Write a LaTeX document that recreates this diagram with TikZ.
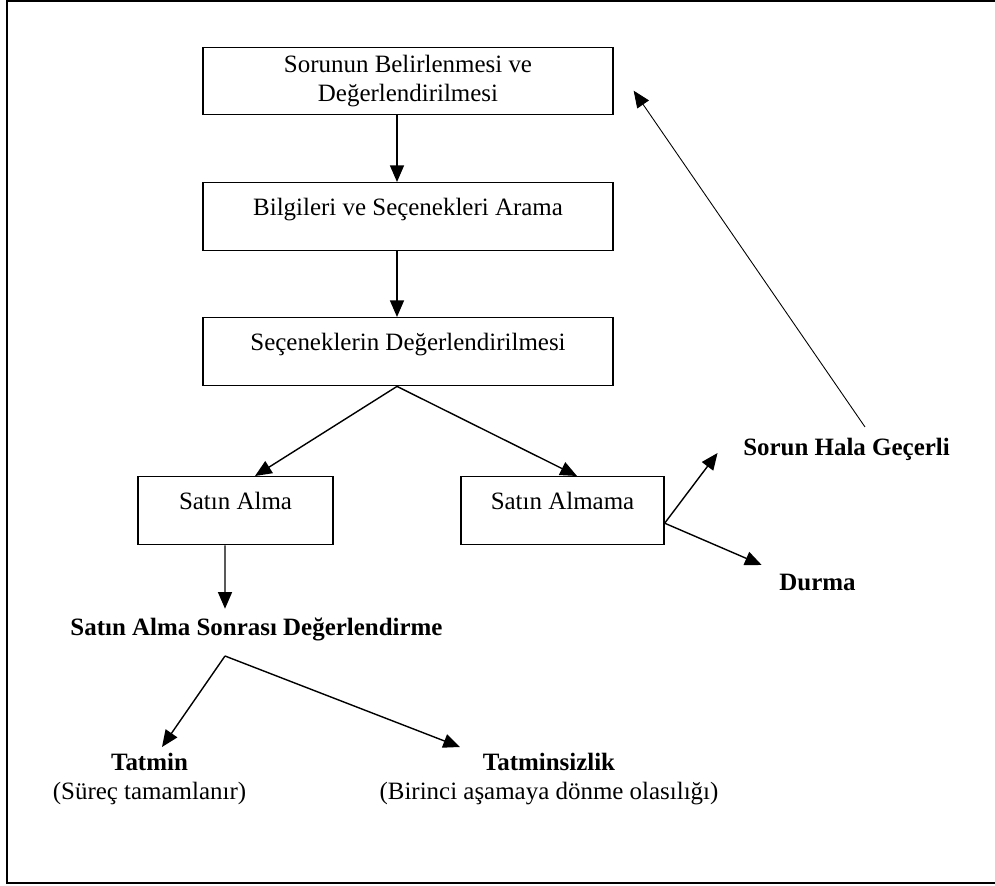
\documentclass[tikz,border=0pt]{standalone}
\usepackage{fontspec}
\setmainfont{Liberation Serif}
\usetikzlibrary{arrows.meta, positioning}

\begin{document}
\begin{tikzpicture}[x=0.02cm,y=-0.02cm,>={Triangle[length=9.5pt,width=8pt]},
  line width=0.8pt,font=\fontsize{14.2}{16.8}\selectfont,
  box/.style={rectangle,draw,inner sep=0pt,anchor=north},
  onel/.style={box,text height=0.66cm,text depth=0.7cm},
  head/.style={font=\fontsize{14.2}{16.8}\selectfont\bfseries,inner sep=0pt,anchor=base},
  res/.style={align=center,inner sep=0pt,anchor=north}]
  \useasboundingbox (0,0) rectangle (995,886);
  \draw[line width=1.1pt] (7,1) rectangle (1010,883);

  \node[box,minimum width=8.2cm,minimum height=1.34cm,align=center] (B1) at (408,47) {Sorunun Belirlenmesi ve\\Değerlendirilmesi};
  \node[onel,minimum width=8.2cm] (B2) at (408,182) {Bilgileri ve Seçenekleri Arama};
  \node[onel,minimum width=8.2cm] (B3) at (408,317) {Seçeneklerin Değerlendirilmesi};
  \node[onel,minimum width=3.9cm] (buy) at (235.5,476) {Satın Alma};
  \node[onel,minimum width=4.06cm] (nobuy) at (562.5,476) {Satın Almama};

  \node[head] (hala) at (846.5,455) {Sorun Hala Geçerli};
  \node[head] (durma) at (817.5,590) {Durma};
  \node[head] (post) at (256.5,635) {Satın Alma Sonrası Değerlendirme};
  \coordinate (fork) at (225,656);
  \node[res] (tat) at (149.5,752) {\textbf{Tatmin}\\(Süreç tamamlanır)};
  \node[res] (tatsiz) at (549,752) {\textbf{Tatminsizlik}\\(Birinci aşamaya dönme olasılığı)};

  \path[->]
     ([xshift=-0.22cm]B1.south) edge ([xshift=-0.22cm]B2.north)
     ([xshift=-0.22cm]B2.south) edge ([xshift=-0.22cm]B3.north)
     ([xshift=-0.22cm]B3.south) edge ([xshift=0.39cm]buy.north)
     ([xshift=-0.22cm]B3.south) edge ([xshift=0.29cm]nobuy.north)
     ([yshift=-0.25cm]nobuy.east) edge ([xshift=-0.5cm,yshift=0.04cm]hala.base west)
     ([yshift=-0.25cm]nobuy.east) edge ([xshift=-0.34cm,yshift=0.5cm]durma.base west)
     ([xshift=-0.21cm]buy.south) edge ([xshift=-0.63cm,yshift=0.16cm]post.north)
     (fork) edge ([xshift=0.25cm,yshift=0.1cm]tat.north)
     (fork) edge ([xshift=-1.78cm,yshift=0.1cm]tatsiz.north);
  % back to the first step
  \path[->,line width=0.5pt]
     ([xshift=0.37cm,yshift=0.2cm]hala.north) edge ([xshift=0.4cm,yshift=-0.19cm]B1.east);
\end{tikzpicture}
\end{document}
